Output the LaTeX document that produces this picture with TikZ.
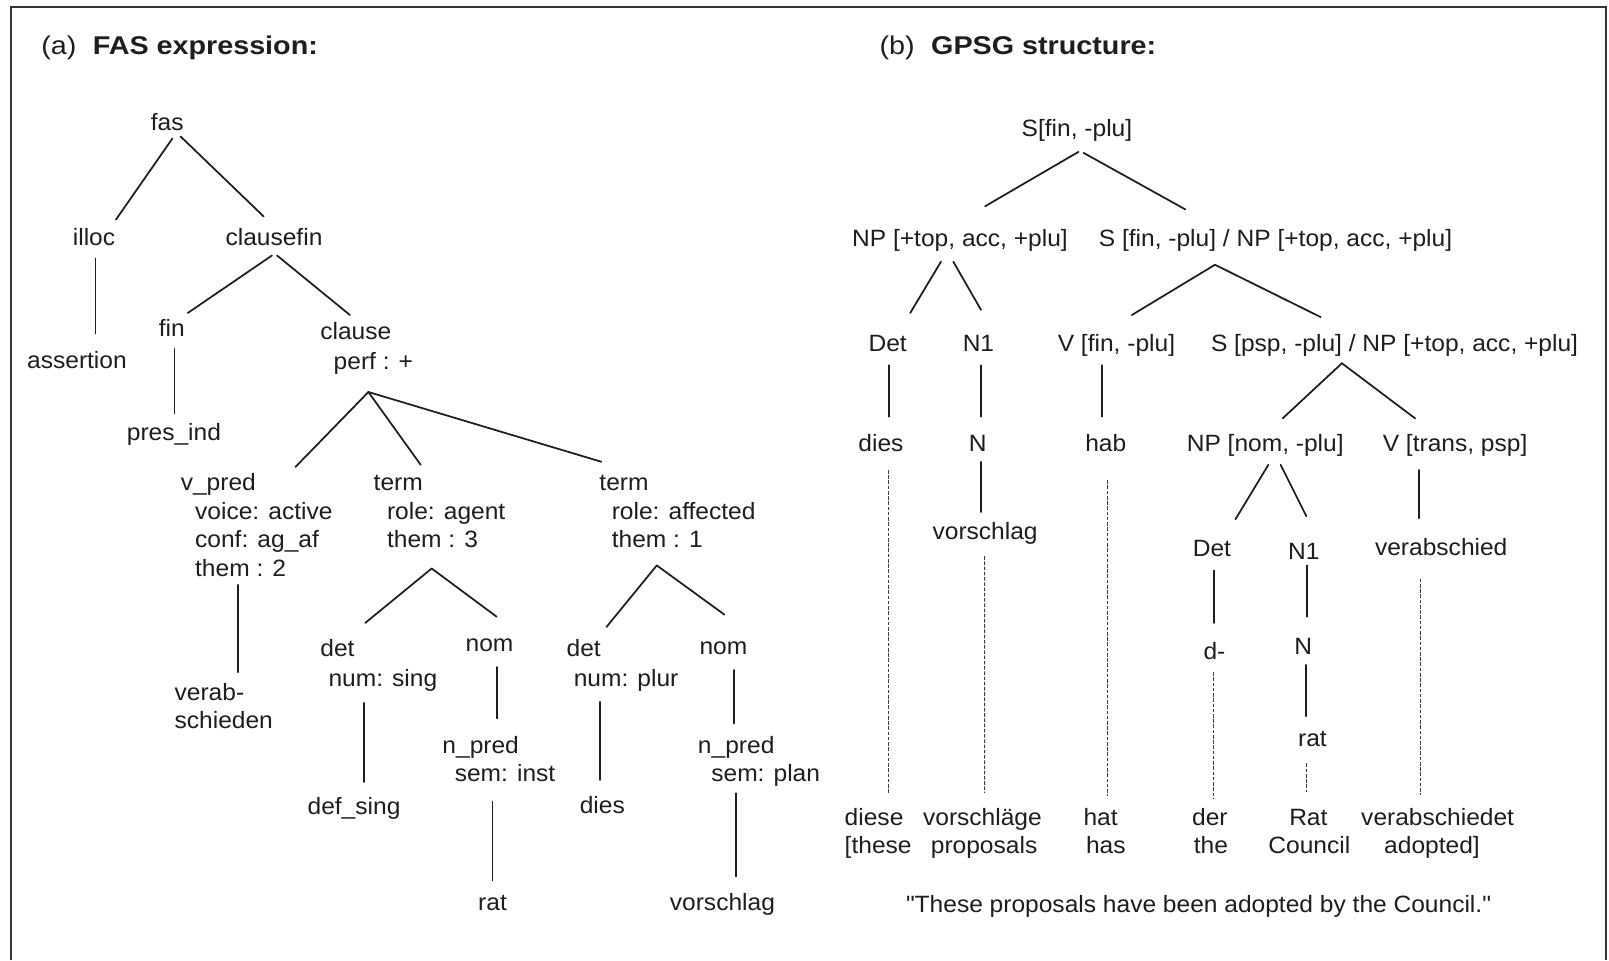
\documentclass[tikz,border=0pt]{standalone}
\usepackage{fontspec}
\setmainfont{Liberation Sans}[FakeStretch=1.04, Ligatures=TeXOff]
\newfontfamily\titlefont{Liberation Sans}[FakeStretch=1.12]
\definecolor{ink}{HTML}{1E1E1E}
\tikzset{
  lbl/.style={inner sep=0pt, anchor=base, text=ink, font=\fontsize{23}{28}\selectfont},
  lbll/.style={lbl, anchor=base west},
  ttl/.style={inner sep=0pt, anchor=base west, text=ink, font=\titlefont\fontsize{25}{30}\selectfont},
  conn/.style={line width=1.7pt, draw=ink, line cap=round},
  dotline/.style={line width=0.9pt, draw=ink!85, dash pattern=on 3.5pt off 1.6pt},
  frame/.style={line width=2.2pt, draw=ink!90}
}
\begin{document}
\begin{tikzpicture}[x=1pt,y=-1pt]
\useasboundingbox (0,0) rectangle (1568,936);
\fill[white] (0,0) rectangle (1568,936);
% frame (open at the bottom)
\coordinate (fbl) at (10.7,936);
\coordinate (ftl) at (10.7,6.8);
\coordinate (ftr) at (1565.3,6.8);
\coordinate (fbr) at (1565.3,936);
\draw[frame] (fbl) -- (ftl) -- (ftr) -- (fbr);

% titles
\node[ttl] (titleA) at (40,53) {(a)\hspace{16pt}\textbf{FAS expression:}};
\node[ttl] (titleB) at (857,53) {(b)\hspace{16pt}\textbf{GPSG structure:}};

% ---------------- (a) FAS expression ----------------
\node[lbl] (fas) at (163,127) {fas};
\node[lbl] (illoc) at (91.6,239) {illoc};
\node[lbl] (clausefin) at (267,239) {clausefin};
\node[lbl] (assertion) at (75,359) {assertion};
\node[lbl] (fin) at (167.5,328) {fin};
\node[lbll] (clause) at (312,331) {clause};
\node[lbll] (perf) at (325,360) {perf : +};
\node[lbl] (presind) at (169.5,429) {pres\_ind};
\node[lbll] (vpred) at (176,478) {v\_pred};
\node[lbll] (vpred2) at (190,506) {voice: active};
\node[lbll] (vpred3) at (190,534) {conf: ag\_af};
\node[lbll] (vpred4) at (190,562) {them : 2};
\node[lbll] (verab) at (170,683) {verab-};
\node[lbll] (verab2) at (170,710) {schieden};
\node[lbll] (termA) at (364,478) {term};
\node[lbll] (termA2) at (377,506) {role: agent};
\node[lbll] (termA3) at (377,534) {them : 3};
\node[lbll] (termB) at (584,478) {term};
\node[lbll] (termB2) at (596,506) {role: affected};
\node[lbll] (termB3) at (596,534) {them : 1};
\node[lbll] (detA) at (312,640) {det};
\node[lbll] (detA2) at (320,669) {num: sing};
\node[lbl] (nomA) at (477,635) {nom};
\node[lbl] (defsing) at (345,794) {def\_sing};
\node[lbll] (npredA) at (431,734) {n\_pred};
\node[lbll] (npredA2) at (443,762) {sem: inst};
\node[lbl] (ratA) at (480,887) {rat};
\node[lbll] (detB) at (552,640) {det};
\node[lbll] (detB2) at (559,669) {num: plur};
\node[lbl] (nomB) at (705,638) {nom};
\node[lbl] (diesA) at (587,793) {dies};
\node[lbll] (npredB) at (680,734) {n\_pred};
\node[lbll] (npredB2) at (693,762) {sem: plan};
\node[lbl] (vorschlagA) at (704,887) {vorschlag};

\draw[conn] ([shift={(5,8)}]fas.base) -- ([shift={(21.4,-25)}]illoc.base);
\draw[conn] ([shift={(13,6)}]fas.base) -- ([shift={(-10,-28)}]clausefin.base);
\draw[conn] ([shift={(1.4,13)}]illoc.base) -- ([shift={(18,-34)}]assertion.base);
\draw[conn] ([shift={(-2,10)}]clausefin.base) -- ([shift={(15.5,-23)}]fin.base);
\draw[conn] ([shift={(3,10)}]clausefin.base) -- ([shift={(29,-24)}]clause.base west);
\draw[conn] ([shift={(2.5,12)}]fin.base) -- ([shift={(0.5,-26)}]presind.base);
\draw[conn] ([shift={(34,22)}]perf.base west) -- ([shift={(112,-23)}]vpred.base west);
\draw[conn] ([shift={(34,22)}]perf.base west) -- ([shift={(46,-25)}]termA.base west);
\draw[conn] ([shift={(34,22)}]perf.base west) -- ([shift={(2,-28)}]termB.base west);
\draw[conn] ([shift={(42,8)}]vpred4.base west) -- ([shift={(62,-28)}]verab.base west);
\draw[conn] ([shift={(43.7,20)}]termA3.base west) -- ([shift={(44,-33)}]detA.base west);
\draw[conn] ([shift={(43.7,20)}]termA3.base west) -- ([shift={(7,-34)}]nomA.base);
\draw[conn] ([shift={(35,16)}]detA2.base west) -- ([shift={(10,-32)}]defsing.base);
\draw[conn] ([shift={(7,15)}]nomA.base) -- ([shift={(53,-34)}]npredA.base west);
\draw[conn] ([shift={(37,19)}]npredA2.base west) -- ([shift={(0,-29)}]ratA.base);
\draw[conn] ([shift={(44,17)}]termB3.base west) -- ([shift={(39,-29)}]detB.base west);
\draw[conn] ([shift={(44,17)}]termB3.base west) -- ([shift={(1,-39)}]nomB.base);
\draw[conn] ([shift={(26,15)}]detB2.base west) -- ([shift={(-2,-33)}]diesA.base);
\draw[conn] ([shift={(10,15)}]nomB.base) -- ([shift={(35,-29)}]npredB.base west);
\draw[conn] ([shift={(24,11)}]npredB2.base west) -- ([shift={(13,-33)}]vorschlagA.base);

% ---------------- (b) GPSG structure ----------------
\node[lbl] (Sroot) at (1049.5,133) {S[fin, -plu]};
\node[lbl] (NPtop) at (935.5,240) {NP [+top, acc, +plu]};
\node[lbl] (Sslash) at (1243,240) {S [fin, -plu] / NP [+top, acc, +plu]};
\node[lbl] (DetA) at (865,343) {Det};
\node[lbl] (N1A) at (953.5,343) {N1};
\node[lbl] (Vfin) at (1088,343) {V [fin, -plu]};
\node[lbl] (Spsp) at (1359,343) {S [psp, -plu] / NP [+top, acc, +plu]};
\node[lbl] (dies) at (858.5,440) {dies};
\node[lbl] (NA) at (952.7,440) {N};
\node[lbl] (hab) at (1077.6,440) {hab};
\node[lbl] (NPnom) at (1233,440) {NP [nom, -plu]};
\node[lbl] (Vtrans) at (1418,440) {V [trans, psp]};
\node[lbl] (vorschlag) at (960,526) {vorschlag};
\node[lbl] (DetB) at (1181,542) {Det};
\node[lbl] (N1B) at (1270.5,545) {N1};
\node[lbl] (verabschied) at (1404.5,541) {verabschied};
\node[lbl] (dminus) at (1183.5,643) {d-};
\node[lbl] (NB) at (1270,638) {N};
\node[lbl] (ratB) at (1279,727) {rat};

\node[lbll] (wdiese) at (823,804) {diese};
\node[lbll] (wthese) at (823,832) {[these};
\node[lbl] (wvorschlaege) at (957.4,804) {vorschläge};
\node[lbl] (wproposals) at (959,832) {proposals};
\node[lbl] (what) at (1072.6,804) {hat};
\node[lbl] (whas) at (1077.6,832) {has};
\node[lbl] (wder) at (1179,804) {der};
\node[lbl] (wthe) at (1180,832) {the};
\node[lbl] (wRat) at (1275,804) {Rat};
\node[lbl] (wCouncil) at (1276,832) {Council};
\node[lbl] (wverabschiedet) at (1401,804) {verabschiedet};
\node[lbl] (wadopted) at (1395.5,832) {adopted]};
\node[lbl] (quote) at (1168,889) {"These proposals have been adopted by the Council."};

\draw[conn] ([shift={(1.5,15)}]Sroot.base) -- ([shift={(24.5,-39)}]NPtop.base);
\draw[conn] ([shift={(6.5,16)}]Sroot.base) -- ([shift={(-88,-36)}]Sslash.base);
\draw[conn] ([shift={(-18.5,15)}]NPtop.base) -- ([shift={(22,-38)}]DetA.base);
\draw[conn] ([shift={(-6.5,15)}]NPtop.base) -- ([shift={(2.5,-41)}]N1A.base);
\draw[conn] ([shift={(-59,18)}]Sslash.base) -- ([shift={(15,-36)}]Vfin.base);
\draw[conn] ([shift={(-59,18)}]Sslash.base) -- ([shift={(-72,-34)}]Spsp.base);
\draw[conn] ([shift={(1.5,13)}]DetA.base) -- ([shift={(8,-34)}]dies.base);
\draw[conn] ([shift={(2.5,13)}]N1A.base) -- ([shift={(3.3,-34)}]NA.base);
\draw[conn] ([shift={(-14,13)}]Vfin.base) -- ([shift={(-3.6,-34)}]hab.base);
\draw[conn] ([shift={(-51.3,11)}]Spsp.base) -- ([shift={(17,-32.3)}]NPnom.base);
\draw[conn] ([shift={(-51.3,11)}]Spsp.base) -- ([shift={(-39,-32.3)}]Vtrans.base);
\draw[conn] ([shift={(3.3,10)}]NA.base) -- ([shift={(-4,-27)}]vorschlag.base);
\draw[conn] ([shift={(3,13)}]NPnom.base) -- ([shift={(23,-36)}]DetB.base);
\draw[conn] ([shift={(15,13)}]NPnom.base) -- ([shift={(2.5,-42)}]N1B.base);
\draw[conn] ([shift={(-35,18)}]Vtrans.base) -- ([shift={(-21.5,-36)}]verabschied.base);
\draw[conn] ([shift={(2,14)}]DetB.base) -- ([shift={(-0.5,-36)}]dminus.base);
\draw[conn] ([shift={(3.5,6)}]N1B.base) -- ([shift={(4,-37)}]NB.base);
\draw[conn] ([shift={(3,10)}]NB.base) -- ([shift={(-6,-29)}]ratB.base);

\draw[dotline] ([shift={(7.5,18)}]dies.base) -- ([shift={(43,-31)}]wdiese.base west);
\draw[dotline] ([shift={(-0.4,16)}]vorschlag.base) -- ([shift={(2.2,-31)}]wvorschlaege.base);
\draw[dotline] ([shift={(1.4,28)}]hab.base) -- ([shift={(6.4,-28)}]what.base);
\draw[dotline] ([shift={(-0.5,12)}]dminus.base) -- ([shift={(4,-26)}]wder.base);
\draw[dotline] ([shift={(-6,17)}]ratB.base) -- ([shift={(-2,-32)}]wRat.base);
\draw[dotline] ([shift={(-20.5,23)}]verabschied.base) -- ([shift={(-17,-29)}]wverabschiedet.base);
\end{tikzpicture}
\end{document}
